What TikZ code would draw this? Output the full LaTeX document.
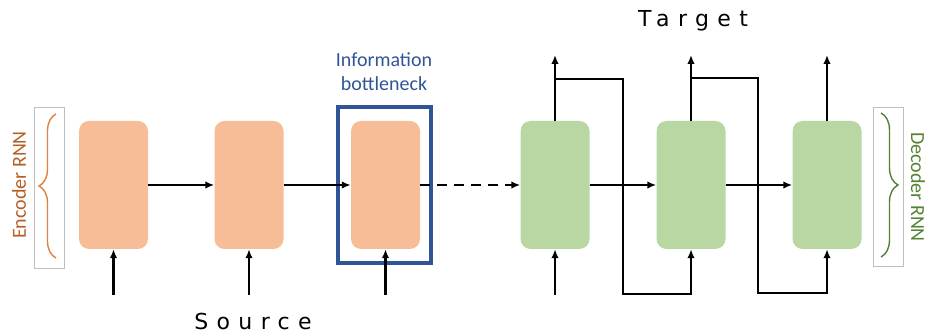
\documentclass[tikz,border=0pt]{standalone}
\usepackage{fontspec}
\setmainfont{DejaVu Sans}
\newfontfamily\labelfont{Carlito}
\usetikzlibrary{arrows.meta,decorations.pathreplacing}

\definecolor{encfill}{HTML}{F6BD96}
\definecolor{decfill}{HTML}{B8D7A3}
\definecolor{bnblue}{HTML}{2F5597}
\definecolor{encbrown}{HTML}{B55E25}
\definecolor{encbrace}{HTML}{E0813F}
\definecolor{decgreen}{HTML}{548235}
\definecolor{greybox}{HTML}{BFBFBF}

\tikzset{
  cell/.style={minimum width=69pt,minimum height=128pt,rounded corners=10pt,inner sep=0pt},
  enccell/.style={cell,fill=encfill},
  deccell/.style={cell,fill=decfill},
  flow/.style={->,line width=2.6pt},
  sidelabel/.style={font=\labelfont\fontsize{20}{22}\selectfont},
  wordlabel/.style={font=\fontsize{22}{24}\selectfont\addfontfeature{LetterSpace=38}}
}

\begin{document}
\begin{tikzpicture}[>={Latex[length=9pt,width=7.5pt]},x=1pt,y=1pt]
\useasboundingbox (0,0) rectangle (927,334);

% cells
\node[enccell] (e1) at (113.5,149) {};
\node[enccell] (e2) at (249,149) {};
\node[enccell] (e3) at (385.5,149) {};
\node[deccell] (d1) at (555,149) {};
\node[deccell] (d2) at (691,149) {};
\node[deccell] (d3) at (827,149) {};

% bottleneck frame
\node[draw=bnblue,line width=3.1pt,minimum width=93pt,minimum height=156pt,inner sep=0pt] (frame) at (384.5,149) {};
\node[text=bnblue,font=\labelfont\fontsize{20}{24}\selectfont,align=center] (bnlabel) at (384,262) {Information\\bottleneck};

% recurrent connections
\draw[flow] (e1) -- (e2);
\draw[flow] (e2) -- (e3);
\draw[flow,dash pattern=on 10pt off 7pt] (e3) -- (d1);
\draw[flow] (d1) -- (d2);
\draw[flow] (d2) -- (d3);

% inputs and outputs
\coordinate (base) at (0,39);
\coordinate (top) at (0,279);
\foreach \n in {e1,e2,e3,d1}
  \draw[flow] (\n.south |- base) -- (\n.south);
\foreach \n in {d1,d2,d3}
  \draw[flow] (\n.north) -- (\n.north |- top);

% feed previous output into next input
\coordinate (h1) at (0,255);
\coordinate (f1) at (623,40);
\coordinate (h2) at (0,256);
\coordinate (f2) at (758,41);
\draw[flow] (d1.north |- h1) -| (f1) -| (d2.south);
\draw[flow] (d2.north |- h2) -| (f2) -| (d3.south);

% words
\node[wordlabel] (source) at (253,13) {Source};
\node[wordlabel] (target) at (693,313) {Target};

% encoder side
\draw[greybox,line width=0.9pt] (34,66) rectangle (64,227);
\draw[encbrace,line width=1.4pt,decorate,decoration={brace,amplitude=17pt}] (56,76) -- (56,220);
\node[sidelabel,text=encbrown,rotate=90] (enclabel) at (19,149) {Encoder RNN};

% decoder side
\draw[greybox,line width=0.9pt] (873,68) rectangle (903,227);
\draw[decgreen,line width=1.4pt,decorate,decoration={brace,amplitude=17pt}] (881,221) -- (881,77);
\node[sidelabel,text=decgreen,rotate=-90] (declabel) at (918,147) {Decoder RNN};
\end{tikzpicture}
\end{document}
